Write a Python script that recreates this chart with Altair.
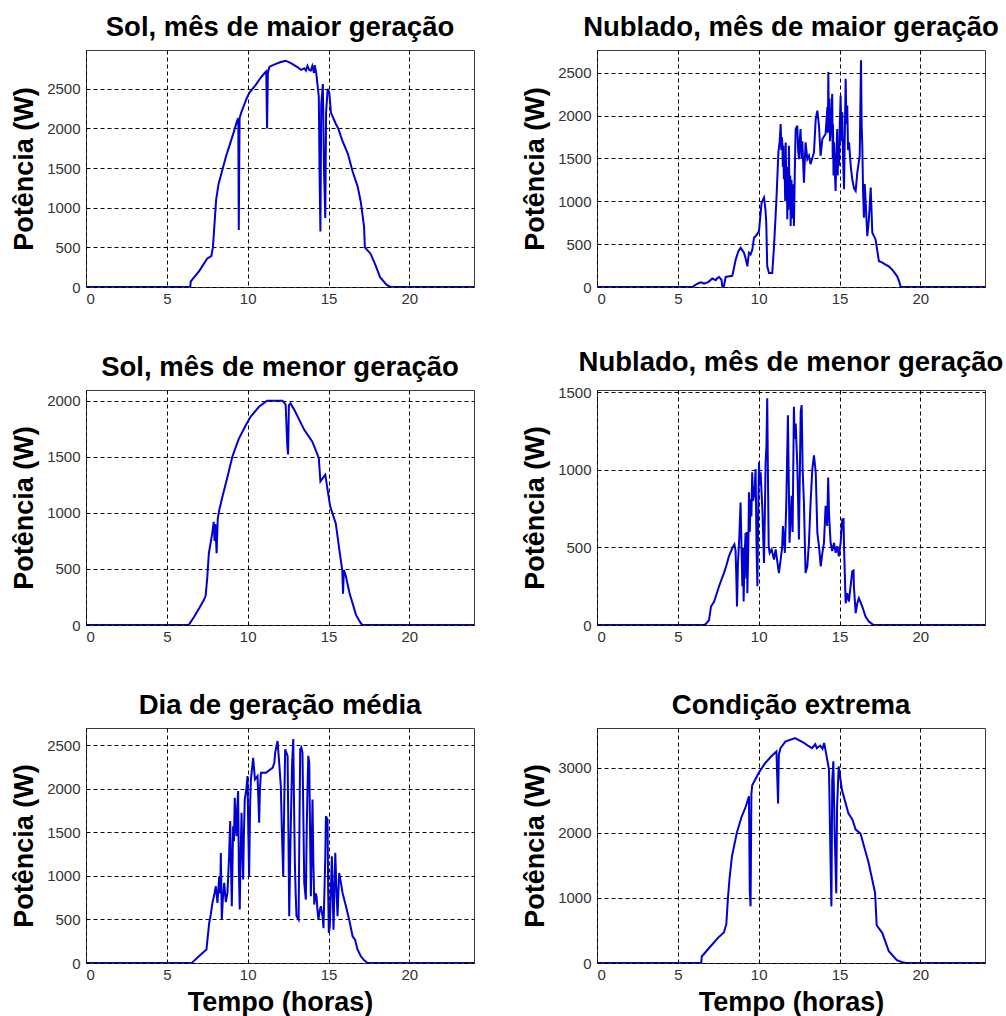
import altair as alt
import pandas as pd

FONT = "Liberation Sans, Arial, Helvetica, sans-serif"
LINE_COLOR = "#0000d4"

TITLES = [
    "Sol, mês de maior geração",
    "Nublado, mês de maior geração",
    "Sol, mês de menor geração",
    "Nublado, mês de menor geração",
    "Dia de geração média",
    "Condição extrema",
]
Y_MAX = [2990, 2765, 2095, 1515, 2700, 3610]
Y_TICKS = [
    [0, 500, 1000, 1500, 2000, 2500],
    [0, 500, 1000, 1500, 2000, 2500],
    [0, 500, 1000, 1500, 2000],
    [0, 500, 1000, 1500],
    [0, 500, 1000, 1500, 2000, 2500],
    [0, 1000, 2000, 3000],
]
X_TICKS = [0, 5, 10, 15, 20]
Y_TITLE = "Potência (W)"
X_TITLE = "Tempo (horas)"

# (hora, potência W)
SOL_MAIOR = [
    (0, 0), (6.45, 0), (6.48, 70), (7.0, 200), (7.5, 360), (7.75, 390), (7.85, 500),
    (7.95, 800), (8.05, 1100), (8.2, 1300), (8.4, 1450), (8.65, 1640), (8.9, 1800),
    (9.15, 1960), (9.35, 2100), (9.42, 2130), (9.45, 720), (9.5, 2130), (9.6, 2200),
    (9.9, 2360), (10.1, 2450), (10.5, 2550), (10.8, 2640), (11.05, 2700), (11.15, 2720),
    (11.2, 2000), (11.25, 2700), (11.35, 2780), (11.75, 2815), (12.0, 2835), (12.35, 2855),
    (12.7, 2820), (13.1, 2770), (13.3, 2740), (13.5, 2760), (13.6, 2730), (13.7, 2790),
    (13.8, 2740), (13.9, 2730), (14.0, 2790), (14.1, 2700), (14.15, 2800), (14.25, 2690),
    (14.4, 2400), (14.45, 1400), (14.5, 700), (14.55, 2300), (14.65, 2560), (14.72, 1500),
    (14.8, 870), (14.85, 2200), (14.95, 2500), (15.05, 2450), (15.15, 2200), (15.45, 2060),
    (15.6, 2000), (15.85, 1850), (16.2, 1680), (16.5, 1450), (16.8, 1270), (17.0, 1070),
    (17.2, 760), (17.25, 500), (17.6, 420), (17.9, 280), (18.2, 120), (18.6, 25),
    (18.85, 0), (24, 0),
]

NUBLADO_MAIOR = [
    (0, 0), (5.9, 0), (6.1, 25), (6.3, 47), (6.45, 55), (6.62, 38), (6.9, 60), (7.13, 100),
    (7.34, 80), (7.45, 105), (7.55, 117), (7.7, 85), (7.75, 10), (7.85, 10), (7.96, 117),
    (8.2, 125), (8.37, 130), (8.58, 320), (8.75, 420), (8.89, 457), (9.09, 400), (9.2, 330),
    (9.3, 242), (9.4, 400), (9.5, 380), (9.61, 437), (9.71, 574), (9.85, 600), (10.02, 652),
    (10.18, 984), (10.33, 1043), (10.42, 900), (10.47, 750), (10.53, 242), (10.64, 164),
    (10.84, 164), (10.95, 476), (11.09, 984), (11.22, 1570), (11.3, 1700), (11.36, 1902),
    (11.4, 1600), (11.43, 1750), (11.46, 1687), (11.5, 1400), (11.53, 1650), (11.56, 1257),
    (11.6, 1500), (11.64, 1000), (11.67, 1687), (11.7, 1300), (11.72, 1000), (11.75, 1400),
    (11.77, 789), (11.8, 1200), (11.84, 900), (11.87, 1648), (11.9, 1100), (11.92, 1000),
    (11.95, 1300), (11.98, 711), (12.01, 1100), (12.03, 1250), (12.06, 800), (12.08, 1179),
    (12.1, 900), (12.13, 800), (12.15, 1200), (12.18, 711), (12.21, 1000), (12.23, 1300),
    (12.26, 1600), (12.29, 1843), (12.39, 1882), (12.44, 1600), (12.49, 1492), (12.54, 1700),
    (12.59, 1843), (12.65, 1500), (12.7, 1700), (12.8, 1218), (12.9, 1687), (13.01, 1492),
    (13.11, 1531), (13.21, 1433), (13.42, 1570), (13.53, 1960), (13.63, 2058), (13.73, 1882),
    (13.83, 1531), (13.94, 1726), (14.14, 1785), (14.25, 2100), (14.28, 1800), (14.31, 2507),
    (14.34, 1900), (14.38, 2200), (14.41, 1700), (14.45, 1804), (14.5, 2000), (14.55, 2253),
    (14.58, 1500), (14.6, 1900), (14.63, 1300), (14.66, 1687), (14.7, 1400), (14.76, 1120),
    (14.8, 1500), (14.86, 1843), (14.89, 1300), (14.92, 1600), (14.97, 1414), (15.02, 1900),
    (15.07, 2234), (15.12, 1700), (15.17, 2038), (15.22, 1500), (15.28, 1140), (15.33, 1800),
    (15.38, 2429), (15.43, 1900), (15.48, 2117), (15.53, 1600), (15.59, 1687), (15.7, 1400),
    (15.79, 1257), (15.9, 1150), (16.0, 1120), (16.1, 1335), (16.25, 1531), (16.33, 2644),
    (16.37, 1900), (16.41, 1648), (16.46, 1100), (16.51, 808), (16.56, 1200), (16.62, 984),
    (16.72, 594), (16.82, 789), (16.93, 1160), (17.03, 633), (17.23, 555), (17.44, 300),
    (17.6, 290), (17.85, 262), (18.05, 240), (18.26, 203), (18.57, 125), (18.7, 60),
    (18.78, 0), (24, 0),
]

SOL_MENOR = [
    (0, 0), (6.35, 0), (6.4, 10), (6.7, 75), (7.0, 150), (7.3, 225), (7.4, 260), (7.5, 420),
    (7.6, 640), (7.8, 810), (7.9, 920), (7.95, 750), (8.0, 900), (8.08, 640), (8.15, 950),
    (8.25, 1030), (8.45, 1150), (8.75, 1320), (9.05, 1500), (9.45, 1660), (9.9, 1785),
    (10.2, 1860), (10.7, 1945), (11.2, 2000), (12.15, 2000), (12.35, 1965), (12.45, 1600),
    (12.5, 1520), (12.55, 1960), (12.65, 1975), (12.9, 1915), (13.5, 1740), (14.0, 1635),
    (14.4, 1490), (14.5, 1280), (14.8, 1340), (14.95, 1200), (15.1, 1060), (15.45, 905),
    (15.7, 640), (15.85, 490), (15.9, 280), (15.95, 490), (16.05, 450), (16.3, 285),
    (16.7, 90), (17.0, 15), (17.1, 0), (24, 0),
]

NUBLADO_MENOR = [
    (0, 0), (6.6, 0), (6.72, 6), (6.93, 32), (7.05, 119), (7.24, 150), (7.55, 250),
    (7.85, 335), (7.96, 368), (8.16, 443), (8.38, 498), (8.5, 520), (8.57, 480), (8.62, 300),
    (8.66, 119), (8.72, 400), (8.8, 563), (8.88, 789), (8.94, 500), (8.99, 250), (9.03, 500),
    (9.07, 152), (9.13, 450), (9.19, 595), (9.24, 300), (9.27, 600), (9.3, 205), (9.36, 500),
    (9.4, 855), (9.45, 600), (9.5, 811), (9.55, 700), (9.6, 985), (9.65, 800), (9.71, 833),
    (9.76, 900), (9.81, 1005), (9.87, 500), (9.92, 250), (9.97, 700), (10.02, 1050),
    (10.07, 900), (10.12, 985), (10.23, 746), (10.33, 400), (10.38, 700), (10.43, 1050),
    (10.48, 1150), (10.53, 1461), (10.58, 900), (10.62, 508), (10.68, 465), (10.8, 487),
    (10.95, 422), (11.05, 487), (11.25, 335), (11.36, 422), (11.45, 500), (11.5, 638),
    (11.62, 465), (11.71, 789), (11.81, 1352), (11.91, 530), (12.04, 833), (12.1, 600),
    (12.18, 1407), (12.23, 1200), (12.29, 1298), (12.39, 1028), (12.49, 552), (12.6, 1375),
    (12.66, 1418), (12.72, 1000), (12.8, 789), (12.9, 335), (13.01, 378), (13.11, 530),
    (13.22, 811), (13.32, 1005), (13.42, 1093), (13.53, 985), (13.63, 595), (13.73, 508),
    (13.84, 378), (13.94, 465), (14.04, 530), (14.14, 768), (14.24, 638), (14.3, 950),
    (14.35, 724), (14.45, 530), (14.55, 476), (14.66, 530), (14.76, 465), (14.86, 508),
    (14.96, 443), (15.07, 530), (15.17, 681), (15.25, 682), (15.28, 508), (15.38, 140),
    (15.48, 205), (15.58, 151), (15.79, 346), (15.87, 351), (15.89, 250), (16.0, 76),
    (16.1, 140), (16.2, 173), (16.41, 119), (16.61, 54), (16.82, 22), (17.03, 6),
    (17.13, 0), (24, 0),
]

MEDIA = [
    (0, 0), (6.55, 0), (6.58, 8), (7.0, 80), (7.31, 133), (7.45, 153), (7.62, 460), (7.72, 560),
    (7.82, 690), (7.95, 800), (8.03, 882), (8.13, 690), (8.24, 997), (8.3, 800), (8.34, 1265),
    (8.4, 498), (8.47, 750), (8.55, 920), (8.65, 700), (8.75, 805), (8.85, 1227), (8.92, 1630),
    (8.97, 1100), (9.02, 652), (9.1, 1572), (9.15, 1400), (9.2, 1898), (9.26, 1600),
    (9.31, 1457), (9.36, 1800), (9.41, 1975), (9.46, 1000), (9.51, 614), (9.56, 1200),
    (9.62, 1726), (9.67, 1300), (9.72, 959), (9.77, 1500), (9.82, 1879), (9.92, 2000),
    (9.99, 2147), (10.04, 1500), (10.09, 997), (10.15, 1800), (10.2, 2109), (10.34, 2358),
    (10.45, 2109), (10.61, 2147), (10.66, 1900), (10.71, 1611), (10.76, 2000), (10.82, 2186),
    (11.13, 2186), (11.54, 2243), (11.65, 2300), (11.7, 2416), (11.85, 2550), (11.95, 2301),
    (12.05, 2033), (12.12, 1500), (12.2, 997), (12.26, 1800), (12.32, 2455), (12.47, 2378),
    (12.52, 1500), (12.57, 537), (12.62, 1100), (12.67, 1611), (12.75, 2300), (12.82, 2573),
    (12.87, 1800), (12.92, 1150), (12.97, 800), (13.02, 537), (13.15, 498), (13.2, 1500),
    (13.25, 2455), (13.32, 2477), (13.39, 2416), (13.45, 1600), (13.5, 920), (13.6, 729),
    (13.65, 1500), (13.7, 1994), (13.75, 2380), (13.81, 2301), (13.86, 1500), (13.91, 767),
    (13.96, 1300), (14.01, 1879), (14.06, 1200), (14.12, 671), (14.2, 800), (14.26, 767),
    (14.32, 600), (14.38, 498), (14.45, 600), (14.53, 652), (14.63, 537), (14.69, 400),
    (14.74, 767), (14.8, 1200), (14.84, 1687), (14.94, 1649), (14.98, 800), (15.02, 345),
    (15.08, 422), (15.14, 800), (15.21, 1227), (15.26, 800), (15.31, 383), (15.36, 800),
    (15.42, 1265), (15.48, 900), (15.56, 537), (15.61, 800), (15.66, 1035), (15.77, 920),
    (15.87, 805), (16.08, 652), (16.28, 498), (16.49, 307), (16.64, 268), (16.8, 153),
    (17.0, 77), (17.21, 31), (17.42, 0), (24, 0),
]

EXTREMA = [
    (0, 0), (6.45, 0), (6.48, 100), (7.0, 250), (7.5, 390), (7.85, 470), (8.0, 600),
    (8.1, 1000), (8.2, 1300), (8.35, 1640), (8.65, 2000), (8.95, 2250), (9.2, 2400),
    (9.4, 2560), (9.45, 1100), (9.5, 870), (9.55, 2600), (9.6, 2730), (10.0, 2920),
    (10.4, 3070), (10.8, 3180), (11.1, 3250), (11.2, 2450), (11.25, 3200), (11.35, 3300),
    (11.65, 3400), (12.25, 3455), (12.8, 3380), (13.1, 3330), (13.3, 3300), (13.5, 3360),
    (13.6, 3300), (13.8, 3340), (13.95, 3290), (14.05, 3380), (14.15, 3250), (14.35, 2970),
    (14.45, 1500), (14.5, 870), (14.55, 2800), (14.62, 3100), (14.7, 2000), (14.8, 1070),
    (14.85, 2400), (14.95, 3020), (15.15, 2660), (15.55, 2300), (15.8, 2200), (16.0, 2050),
    (16.3, 1990), (16.8, 1540), (17.2, 1080), (17.3, 580), (17.65, 460), (18.05, 180),
    (18.55, 45), (18.9, 10), (19.1, 0), (24, 0),
]

SERIES = [SOL_MAIOR, NUBLADO_MAIOR, SOL_MENOR, NUBLADO_MENOR, MEDIA, EXTREMA]
HEIGHTS = [237, 237, 235, 235, 235, 235]


def panel(i):
    df = pd.DataFrame(SERIES[i], columns=["hora", "potencia"])
    x_axis_kw = dict(values=X_TICKS, format="d", labelPadding=4)
    if i >= 4:
        x_axis_kw["title"] = X_TITLE
        x_axis_kw["titlePadding"] = 7
    else:
        x_axis_kw["title"] = None
    return (
        alt.Chart(
            df,
            title=alt.TitleParams(
                TITLES[i], fontSize=27.5, fontWeight="bold", font=FONT, color="#000000",
                anchor="middle", frame="group", offset=9,
            ),
        )
        .mark_line(color=LINE_COLOR, strokeWidth=2, clip=True)
        .encode(
            x=alt.X("hora:Q", scale=alt.Scale(domain=[0, 24], nice=False, zero=False),
                    axis=alt.Axis(**x_axis_kw)),
            y=alt.Y("potencia:Q", scale=alt.Scale(domain=[0, Y_MAX[i]], nice=False),
                    axis=alt.Axis(values=Y_TICKS[i], format="d", title=Y_TITLE,
                                  labelPadding=6, titlePadding=8)),
        )
        .properties(width=388, height=HEIGHTS[i])
    )


chart = (
    alt.concat(*[panel(i) for i in range(6)], columns=2,
               spacing={"row": 103, "column": 123}, bounds="flush")
    .properties(padding={"left": 10, "top": 13, "right": 0, "bottom": 0}, background="#ffffff")
    .configure_view(stroke="#3a3a3a", strokeWidth=1)
    .configure_axis(
        labelFont=FONT, labelFontSize=15, labelColor="#333333",
        titleFont=FONT, titleFontSize=27, titleFontWeight="bold", titleColor="#000000",
        grid=True, gridColor="#000000", gridDash=[4, 3], gridWidth=1, gridOpacity=1,
        ticks=False, domain=False,
    )
)

chart.save("out.html", embed_options={"renderer": "svg", "actions": False})
